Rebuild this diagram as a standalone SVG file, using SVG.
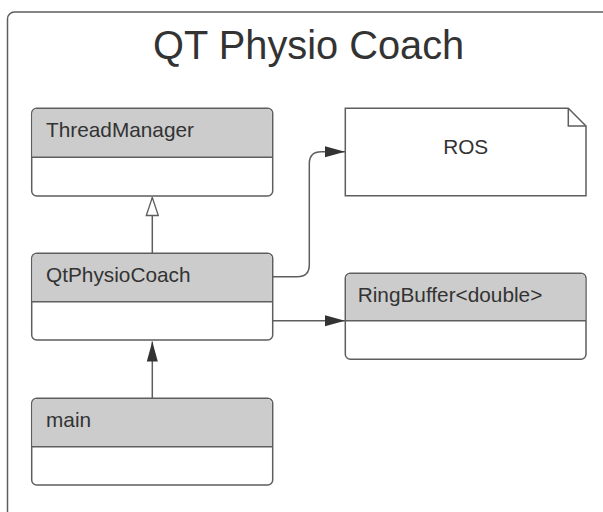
<svg xmlns="http://www.w3.org/2000/svg" width="603" height="512" viewBox="0 0 603 512">
<style>
.box{fill:#fff;stroke:#5e5e5e;stroke-width:1.5}
.hdr{fill:#cccccc;stroke:none}
.div{stroke:#5e5e5e;stroke-width:1.5}
.lbl{font-family:"Liberation Sans",Arial,sans-serif;font-size:20.8px;fill:#333}
.ttl{font-family:"Liberation Sans",Arial,sans-serif;font-size:39.8px;fill:#333}
.con{fill:none;stroke:#5e5e5e;stroke-width:1.5}
</style>
<defs>
<marker id="hollow" viewBox="0 0 20 14" refX="19" refY="7" markerWidth="20" markerHeight="14" markerUnits="userSpaceOnUse" orient="auto">
<path d="M1,1 L19,7 L1,13 Z" fill="#fff" stroke="#5e5e5e" stroke-width="1.3"/>
</marker>
<marker id="filled" viewBox="0 0 20 12" refX="20" refY="6" markerWidth="20" markerHeight="12" markerUnits="userSpaceOnUse" orient="auto">
<path d="M0,0.5 L20,6 L0,11.5 Z" fill="#333"/>
</marker>
</defs>
<rect x="7.5" y="12" width="640" height="560" rx="7" fill="#fff" stroke="#5e5e5e" stroke-width="1.5"/>
<text class="ttl" x="308.7" y="59" text-anchor="middle">QT Physio Coach</text>

<g id="connectors">
<path class="con" d="M152.3,253.3 V197.5" marker-end="url(#hollow)"/>
<path class="con" d="M152.3,398.3 V341.5" marker-end="url(#filled)"/>
<path class="con" d="M272.7,276.7 H297.3 Q309.3,276.7 309.3,264.7 V163.7 Q309.3,151.7 321.3,151.7 H345" marker-end="url(#filled)"/>
<path class="con" d="M272.7,320.7 H345" marker-end="url(#filled)"/>
</g>

<g id="ThreadManager">
<rect class="box" x="31.7" y="108.3" width="241" height="87.7" rx="5"/>
<path class="hdr" d="M32.45,157.3 V114 Q32.45,109.05 37.4,109.05 H267 Q271.95,109.05 271.95,114 V157.3 Z"/>
<line class="div" x1="31.7" y1="157.3" x2="272.7" y2="157.3"/>
<text class="lbl" x="46" y="136.7">ThreadManager</text>
</g>

<g id="QtPhysioCoach">
<rect class="box" x="31.7" y="253.3" width="241" height="86.7" rx="5"/>
<path class="hdr" d="M32.45,301.7 V259 Q32.45,254.05 37.4,254.05 H267 Q271.95,254.05 271.95,259 V301.7 Z"/>
<line class="div" x1="31.7" y1="301.7" x2="272.7" y2="301.7"/>
<text class="lbl" x="46" y="282.3">QtPhysioCoach</text>
</g>

<g id="main">
<rect class="box" x="31.7" y="398.3" width="241" height="86.7" rx="5"/>
<path class="hdr" d="M32.45,446.7 V404 Q32.45,399.05 37.4,399.05 H267 Q271.95,399.05 271.95,404 V446.7 Z"/>
<line class="div" x1="31.7" y1="446.7" x2="272.7" y2="446.7"/>
<text class="lbl" x="46" y="426.7">main</text>
</g>

<g id="ROS">
<path class="box" d="M345.3,108.3 H568.3 L586,126 V195.7 H345.3 Z"/>
<path class="con" d="M568.3,108.3 V126 H586"/>
<text class="lbl" x="465.7" y="154" text-anchor="middle">ROS</text>
</g>

<g id="RingBuffer">
<rect class="box" x="345.3" y="273.3" width="240.7" height="86" rx="5"/>
<path class="hdr" d="M346.05,320.7 V279 Q346.05,274.05 351,274.05 H580.3 Q585.25,274.05 585.25,279 V320.7 Z"/>
<line class="div" x1="345.3" y1="320.7" x2="586" y2="320.7"/>
<text class="lbl" x="357.7" y="301.7">RingBuffer&lt;double&gt;</text>
</g>
</svg>
